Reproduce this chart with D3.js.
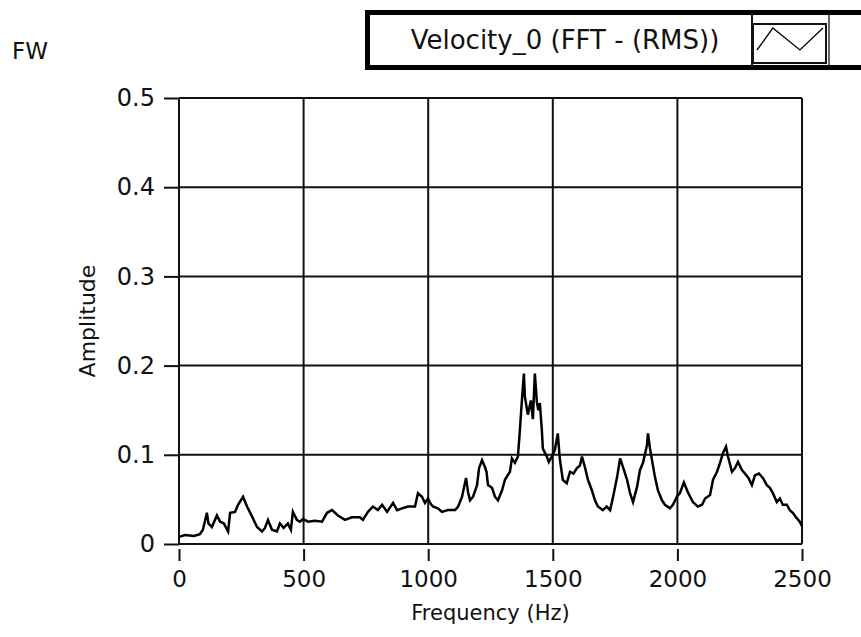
<!DOCTYPE html>
<html>
<head>
<meta charset="utf-8">
<script src="https://cdn.jsdelivr.net/npm/d3@7"></script>
<style>
html,body{margin:0;padding:0;background:#fff;}
svg{display:block;}
text{font-family:"DejaVu Sans",sans-serif;fill:#111;}
</style>
</head>
<body>
<svg id="chart" width="861" height="637"></svg>
<script>
// ---- data ----
const frequency = [0,24,60,84,96,112,118,132,152,165,180,197,205,225,237,257,273,293,313,333,345,357,373,393,405,420,437,449,457,473,485,498,518,545,574,594,614,638,666,694,726,738,758,778,798,815,835,859,875,895,919,947,959,975,987,999,1010,1019,1039,1055,1079,1108,1120,1136,1144,1152,1160,1168,1180,1196,1204,1216,1228,1234,1240,1256,1268,1280,1296,1308,1328,1336,1348,1360,1368,1376,1384,1388,1400,1412,1420,1428,1436,1442,1448,1456,1460,1476,1484,1496,1508,1520,1528,1540,1556,1569,1583,1597,1609,1617,1629,1641,1657,1669,1681,1701,1716,1730,1742,1758,1770,1782,1798,1810,1822,1838,1850,1862,1878,1882,1890,1898,1910,1922,1938,1950,1970,1982,1998,2010,2026,2042,2062,2082,2099,2111,2131,2143,2159,2171,2183,2195,2203,2219,2231,2243,2259,2271,2285,2299,2311,2327,2343,2359,2371,2383,2399,2411,2423,2439,2451,2463,2479,2491,2500];
const amplitude = [0.008,0.010,0.009,0.011,0.016,0.035,0.023,0.019,0.032,0.025,0.023,0.014,0.035,0.036,0.044,0.053,0.042,0.031,0.019,0.014,0.018,0.027,0.016,0.014,0.023,0.018,0.023,0.016,0.036,0.027,0.025,0.028,0.025,0.026,0.025,0.035,0.038,0.032,0.027,0.030,0.030,0.027,0.036,0.042,0.038,0.044,0.036,0.046,0.038,0.040,0.042,0.042,0.057,0.053,0.046,0.051,0.045,0.042,0.040,0.036,0.038,0.038,0.042,0.053,0.064,0.074,0.058,0.049,0.053,0.066,0.085,0.094,0.086,0.081,0.066,0.063,0.053,0.049,0.060,0.072,0.081,0.096,0.091,0.098,0.128,0.161,0.191,0.165,0.145,0.161,0.140,0.191,0.159,0.150,0.158,0.128,0.107,0.098,0.092,0.098,0.105,0.124,0.096,0.072,0.068,0.081,0.079,0.085,0.088,0.098,0.086,0.072,0.060,0.049,0.042,0.038,0.042,0.038,0.053,0.075,0.096,0.086,0.072,0.057,0.047,0.064,0.083,0.091,0.111,0.124,0.107,0.094,0.075,0.060,0.049,0.044,0.040,0.044,0.053,0.057,0.069,0.058,0.047,0.042,0.044,0.051,0.055,0.072,0.081,0.091,0.102,0.109,0.098,0.081,0.085,0.092,0.083,0.079,0.074,0.066,0.077,0.079,0.074,0.066,0.063,0.057,0.047,0.051,0.044,0.044,0.038,0.035,0.029,0.025,0.020];
const xTicks = [0,500,1000,1500,2000,2500];
const yTicks = [0,0.1,0.2,0.3,0.4,0.5];
const yTickLabels = ["0","0.1","0.2","0.3","0.4","0.5"];
const seriesName = "Velocity_0 (FFT - (RMS))";
const chartTitle = "FW";
const xTitle = "Frequency (Hz)";
const yTitle = "Amplitude";

// ---- drawing ----
const svg = d3.select("#chart");
const L = 179, R = 802, T = 98, B = 544;
const x = d3.scaleLinear().domain([0,2500]).range([L,R]);
const y = d3.scaleLinear().domain([0,0.5]).range([B,T]);
const ink = "#111";

// grid
const g = svg.append("g");
g.selectAll(".vg").data(xTicks).join("line")
  .attr("x1", d=>x(d)).attr("x2", d=>x(d)).attr("y1", T).attr("y2", B)
  .attr("stroke", ink).attr("stroke-width", 2);
g.selectAll(".hg").data(yTicks).join("line")
  .attr("x1", L).attr("x2", R).attr("y1", d=>y(d)).attr("y2", d=>y(d))
  .attr("stroke", ink).attr("stroke-width", 2);

// x axis ticks (detached, below)
const xa = svg.append("g").attr("transform", `translate(0,${B+5})`)
  .call(d3.axisBottom(x).tickValues(xTicks).tickSize(12).tickPadding(10).tickFormat(d3.format("d")));
xa.select(".domain").remove();
xa.selectAll(".tick line").attr("stroke", ink).attr("stroke-width", 2);
xa.selectAll(".tick text").attr("font-size", 23).attr("font-family","DejaVu Sans").attr("fill", ink);

// y axis ticks
const ya = svg.append("g").attr("transform", `translate(${L},0)`)
  .call(d3.axisLeft(y).tickValues(yTicks).tickSize(15).tickPadding(9).tickFormat((d,i)=>yTickLabels[i]));
ya.select(".domain").remove();
ya.selectAll(".tick line").attr("stroke", ink).attr("stroke-width", 2);
ya.selectAll(".tick text").attr("font-size", 24).attr("font-family","DejaVu Sans").attr("fill", ink);

// data line
const pts = frequency.map((f,i)=>[f, amplitude[i]]);
svg.append("path").datum(pts)
  .attr("fill","none").attr("stroke","#000").attr("stroke-width",2.5)
  .attr("stroke-linejoin","miter")
  .attr("d", d3.line().x(d=>x(d[0])).y(d=>y(d[1])));

// titles
svg.append("text").attr("x", 12).attr("y", 59).attr("font-size", 23).text(chartTitle);
svg.append("text").attr("x", (L+R)/2).attr("y", 620).attr("text-anchor","middle")
  .attr("font-size", 21).text(xTitle);
svg.append("text").attr("transform", `translate(95,${(T+B)/2}) rotate(-90)`)
  .attr("text-anchor","middle").attr("font-size", 22).text(yTitle);

// legend
const lg = svg.append("g");
lg.append("rect").attr("x", 367.5).attr("y", 12.5).attr("width", 510).attr("height", 55)
  .attr("fill","#fff").attr("stroke","#000").attr("stroke-width",5);
lg.append("line").attr("x1",752).attr("x2",752).attr("y1",15).attr("y2",65).attr("stroke",ink).attr("stroke-width",2);
lg.append("line").attr("x1",829).attr("x2",829).attr("y1",15).attr("y2",65).attr("stroke","#333").attr("stroke-width",1.5);
lg.append("rect").attr("x",753).attr("y",24).attr("width",73).attr("height",39)
  .attr("fill","#fff").attr("stroke",ink).attr("stroke-width",2);
const iconX = d3.scaleLinear().domain([0,3]).range([757,823]);
const iconY = d3.scaleLinear().domain([0,1]).range([50,28]);
lg.append("path").datum([[0,0],[0.72,1],[1.95,0],[3,1]])
  .attr("fill","none").attr("stroke","#000").attr("stroke-width",1.3)
  .attr("d", d3.line().x(d=>iconX(d[0])).y(d=>iconY(d[1])));
lg.append("text").attr("x", 565).attr("y", 49).attr("text-anchor","middle")
  .attr("font-size", 26).text(seriesName);
</script>
</body>
</html>
